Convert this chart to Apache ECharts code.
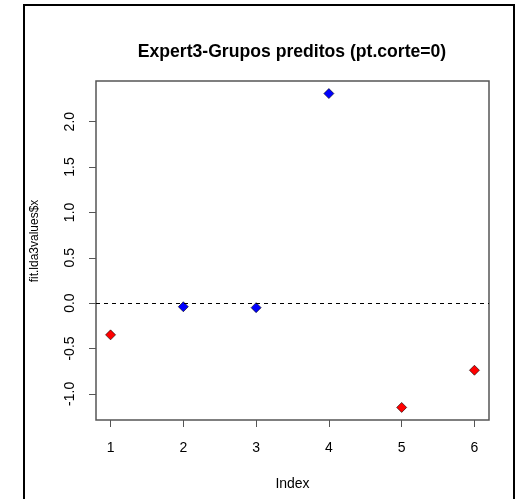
<!DOCTYPE html>
<html>
<head>
<meta charset="utf-8">
<script src="https://cdn.jsdelivr.net/npm/echarts@6/dist/echarts.min.js"></script>
<style>
  html, body { margin: 0; padding: 0; background: #fff; }
  #chart { width: 519px; height: 499px; }
</style>
</head>
<body>
<div id="chart"></div>
<script>
// Discriminant scores per observation and the predicted group of each
const obsIndex = [1, 2, 3, 4, 5, 6];
const ldaScores = [-0.35, -0.04, -0.05, 2.31, -1.15, -0.74];
const predictedGroup = [1, 2, 2, 2, 1, 1];
const groupColors = { 1: '#ff0000', 2: '#0000ff' };
const xTicks = [1, 2, 3, 4, 5, 6];
const yTicks = [-1.0, -0.5, 0.0, 0.5, 1.0, 1.5, 2.0];
const cutPoint = 0;

// Axis limits padded by 4% of the data range on each side
function padded(values) {
  const lo = Math.min(...values), hi = Math.max(...values);
  const pad = (hi - lo) * 0.04;
  return [lo - pad, hi + pad];
}
const [xMin, xMax] = padded(obsIndex);
const [yMin, yMax] = padded(ldaScores);

const font = 'Liberation Sans, Arial, sans-serif';
const chart = echarts.init(document.getElementById('chart'));

chart.setOption({
  animation: false,
  backgroundColor: '#ffffff',
  title: {
    text: 'Expert3-Grupos preditos (pt.corte=0)',
    left: 287,
    top: 38,
    textAlign: 'center',
    textStyle: { fontFamily: font, fontSize: 17.6, fontWeight: 'bold', color: '#000' }
  },
  grid: {
    left: 96, top: 81, right: 30, bottom: 79,
    show: true, borderColor: '#555', borderWidth: 1.5, backgroundColor: 'transparent'
  },
  xAxis: {
    type: 'value',
    min: xMin, max: xMax,
    name: 'Index',
    nameLocation: 'middle',
    nameGap: 57,
    nameTextStyle: { fontFamily: font, fontSize: 14, color: '#000' },
    axisLine: { show: false, onZero: false },
    splitLine: { show: false },
    axisTick: { show: true, length: 7, customValues: xTicks, lineStyle: { color: '#555' } },
    axisLabel: {
      customValues: xTicks, margin: 21,
      fontFamily: font, fontSize: 14, color: '#000',
      formatter: v => String(v)
    }
  },
  yAxis: {
    type: 'value',
    min: yMin, max: yMax,
    axisLine: { show: false, onZero: false },
    splitLine: { show: false },
    axisTick: { show: true, length: 7, customValues: yTicks, lineStyle: { color: '#555' } },
    axisLabel: {
      customValues: yTicks, margin: 19, rotate: 90,
      fontFamily: font, fontSize: 14, color: '#000',
      formatter: v => v.toFixed(1)
    }
  },
  graphic: [
    {
      type: 'rect',
      shape: { x: 24, y: 5, width: 490, height: 520 },
      style: { fill: 'none', stroke: '#000', lineWidth: 2 },
      silent: true
    },
    {
      type: 'text',
      x: 35, y: 241,
      rotation: Math.PI / 2,
      style: {
        text: 'fit.lda3values$x',
        fontFamily: font, fontSize: 12, fill: '#000',
        align: 'center', verticalAlign: 'middle'
      }
    }
  ],
  series: [{
    type: 'scatter',
    symbol: 'diamond',
    symbolSize: 10,
    data: obsIndex.map((x, i) => ({
      value: [x, ldaScores[i]],
      itemStyle: { color: groupColors[predictedGroup[i]] }
    })),
    itemStyle: { borderColor: '#000', borderWidth: 0.6, opacity: 1 },
    markLine: {
      silent: true,
      symbol: 'none',
      label: { show: false },
      lineStyle: { color: '#000', type: [4, 4], width: 1 },
      data: [{ yAxis: cutPoint }]
    }
  }]
});
</script>
</body>
</html>
